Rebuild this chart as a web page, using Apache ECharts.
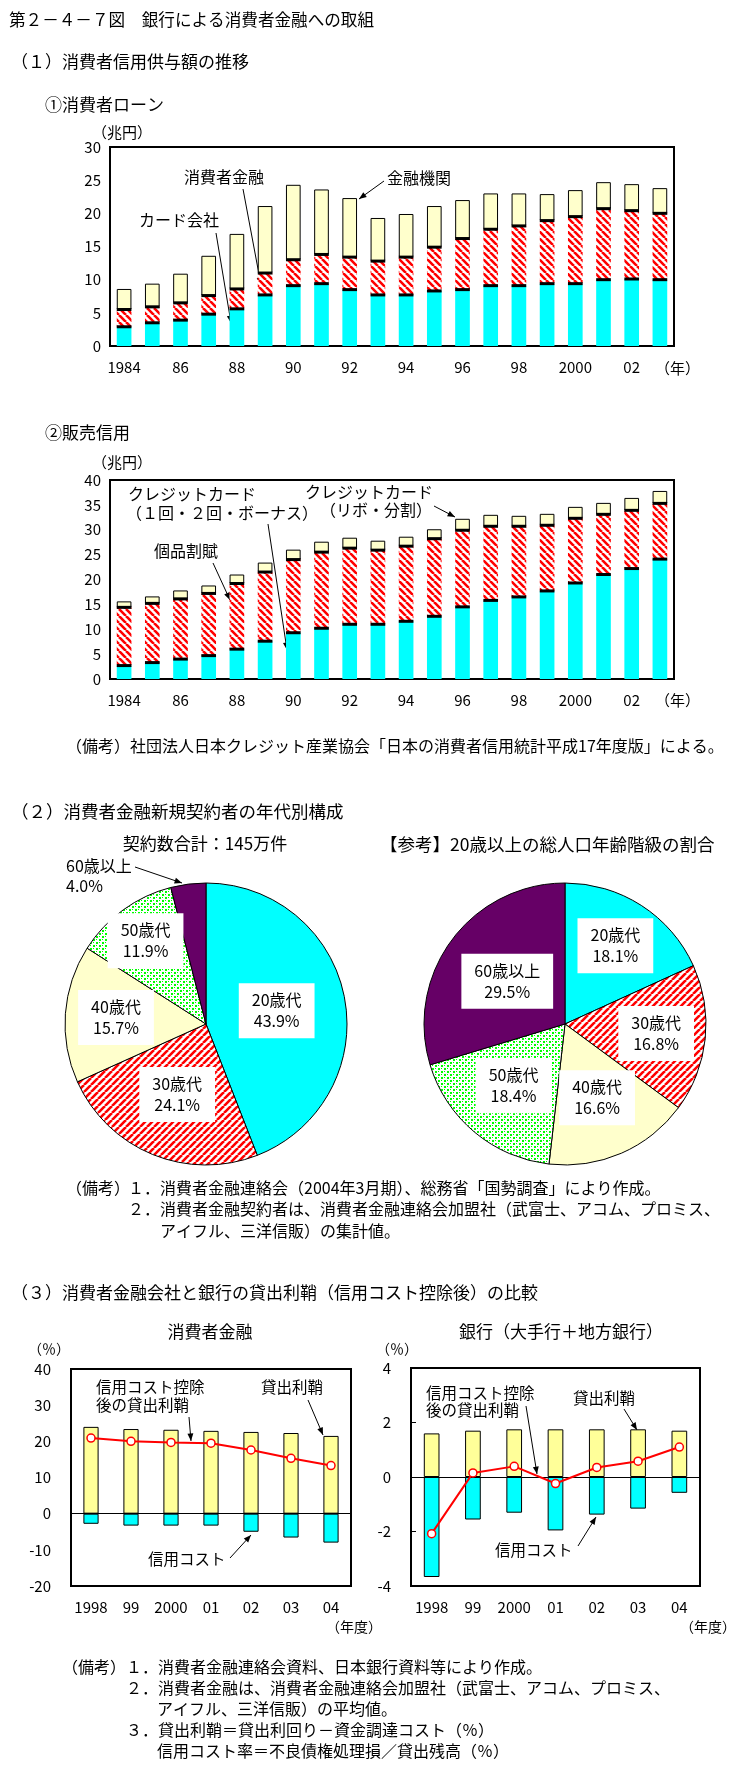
<!DOCTYPE html>
<html><head><meta charset="utf-8">
<script src="https://cdn.jsdelivr.net/npm/echarts@6/dist/echarts.min.js"></script>
<style>html,body{margin:0;padding:0;background:#fff}#c{width:734px;height:1774px}</style>
</head><body><div id="c"></div>
<script>
// ---------- DATA ----------
const years = ['1984','85','86','87','88','89','90','91','92','93','94','95','96','97','98','99','2000','01','02','03'];
// ① 消費者ローン (兆円)
const loanCard     = [2.9,3.5,3.9,4.8,5.6,7.7,9.1,9.4,8.5,7.7,7.7,8.3,8.5,9.1,9.1,9.4,9.4,10.0,10.1,10.0]; // カード会社
const loanConsumer = [2.6,2.4,2.6,2.8,3.0,3.3,3.9,4.4,4.9,5.1,5.7,6.6,7.7,8.5,9.0,9.5,10.1,10.7,10.3,10.0]; // 消費者金融
const loanBank     = [3.1,3.5,4.4,6.0,8.3,10.1,11.3,9.8,8.9,6.5,6.5,6.2,5.8,5.4,4.9,4.0,4.0,4.0,4.0,3.8]; // 金融機関
// ② 販売信用 (兆円)
const saleCard1    = [2.7,3.3,4.0,4.7,6.0,7.6,9.3,10.2,11.0,11.0,11.6,12.6,14.5,15.8,16.5,17.7,19.3,21.0,22.2,24.1]; // クレジットカード（１回・２回・ボーナス）
const saleInstall  = [11.7,11.9,12.1,12.5,13.2,13.9,14.7,15.3,15.3,14.9,15.1,15.6,15.4,14.9,14.2,13.2,13.0,12.1,11.7,11.2]; // 個品割賦
const saleRevo     = [1.2,1.4,1.7,1.6,1.8,1.9,2.0,2.1,2.1,1.9,1.9,1.9,2.3,2.3,2.1,2.3,2.3,2.3,2.5,2.5]; // クレジットカード（リボ・分割）
// (2) 年代別構成 (%)
const ageGroups     = ['20歳代','30歳代','40歳代','50歳代','60歳以上'];
const contractShare = [43.9,24.1,15.7,11.9,4.0];
const populationShare = [18.1,16.8,16.6,18.4,29.5];
// (3) 貸出利鞘 (%)
const fiscalYears = ['1998','99','2000','01','02','03','04'];
const cfMargin = [24.0,23.4,23.2,22.9,22.6,22.3,21.5];
const cfCost   = [-2.8,-3.3,-3.3,-3.3,-5.0,-6.6,-8.0];
const cfNet    = [20.9,20.0,19.7,19.5,17.6,15.3,13.3];
const bkMargin = [1.6,1.7,1.75,1.75,1.75,1.75,1.7];
const bkCost   = [-3.67,-1.56,-1.31,-1.96,-1.38,-1.16,-0.58];
const bkNet    = [-2.08,0.15,0.39,-0.24,0.35,0.58,1.10];

// ---------- STYLE ----------
const FONT = '"Noto Sans CJK JP", sans-serif';
const CYAN = '#00FFFF', PALE = '#FFFFCC', YEL = '#FFFF99', PURPLE = '#660066';
function hatch(dir, p, lw){
  const c = document.createElement('canvas'); c.width = c.height = p;
  const g = c.getContext('2d'); g.fillStyle = '#fff'; g.fillRect(0,0,p,p);
  g.strokeStyle = '#FF0000'; g.lineWidth = lw; g.beginPath();
  for (let k=-1;k<=1;k++){
    if (dir === 'back'){ g.moveTo(k*p,0); g.lineTo(k*p+p,p); }
    else { g.moveTo(k*p,p); g.lineTo(k*p+p,0); }
  }
  g.stroke(); return {image:c, repeat:'repeat'};
}
function dots(){
  const c = document.createElement('canvas'); c.width = c.height = 6;
  const g = c.getContext('2d'); g.fillStyle = '#fff'; g.fillRect(0,0,6,6);
  g.fillStyle = '#00FF00';
  g.fillRect(0,0,2,2); g.fillRect(3,3,2,2); g.fillRect(3,0,1,1); g.fillRect(0,3,1,1);
  return {image:c, repeat:'repeat'};
}
const barHatch = hatch('back', 7, 2.6);
const pieHatch = hatch('fwd', 7, 2.6);
const pieDots = dots();

function txt(x, y, text, size, align){
  return {type:'text', x:x, y:y, silent:true, style:{text:text, fill:'#000', fontSize:size||15, fontFamily:FONT, align:align||'left', verticalAlign:'middle'}};
}
function arrow(x1,y1,x2,y2){
  const a = Math.atan2(y2-y1, x2-x1), L = 8, w = 0.38;
  return [
    {type:'line', silent:true, shape:{x1:x1,y1:y1,x2:x2,y2:y2}, style:{stroke:'#000', lineWidth:1}},
    {type:'polygon', silent:true, shape:{points:[[x2-L*Math.cos(a-w), y2-L*Math.sin(a-w)],[x2,y2],[x2-L*Math.cos(a+w), y2-L*Math.sin(a+w)]]}, style:{fill:'#000'}}
  ];
}

const BARW = 0.52;
// black separator lines on stacked bars, positioned by the axis scales
function sepSeries(xi, yi, levels){
  const data = [];
  levels.forEach(arr => arr.forEach((v,i) => data.push([i, v])));
  return {
    type:'custom', xAxisIndex:xi, yAxisIndex:yi, z:5, silent:true, data:data,
    renderItem:function(params, api){
      const p = api.coord([api.value(0), api.value(1)]);
      const w = api.size([1,0])[0]*BARW;
      return {type:'rect', shape:{x:p[0]-w/2, y:p[1]-1.5, width:w, height:3}, style:{fill:'#000'}};
    }
  };
}
function cum(a,b){ return a.map((v,i)=>+(v+b[i]).toFixed(2)); }

function pieLayout(cx, cy, r, values, fracs){
  const total = values.reduce((s,v)=>s+v,0);
  return function(p){
    const i = p.dataIndex; let before = 0;
    for (let j=0;j<i;j++) before += values[j];
    const ang = (90 - (before + values[i]/2)/total*360)*Math.PI/180;
    return {x: cx + fracs[i]*r*Math.cos(ang), y: cy - fracs[i]*r*Math.sin(ang), align:'center', verticalAlign:'middle'};
  };
}
const pieColors = [CYAN, pieHatch, PALE, pieDots, PURPLE];
function pieData(values, hideLast){
  return values.map((v,i)=>({name:ageGroups[i], value:v, itemStyle:{color:pieColors[i]},
    label: (hideLast && i===values.length-1) ? {show:false} : undefined}));
}
const pieLabel = {show:true, position:'inside', formatter:p=>p.name+'\n'+p.value.toFixed(1)+'%',
  backgroundColor:'#fff', padding:[7,13,6,13], fontSize:16, lineHeight:21, color:'#000', fontFamily:FONT};

const axisTxt = {color:'#000', fontSize:15, fontFamily:FONT};

const grids = [
  {left:110, top:147, width:564, height:199},
  {left:110, top:480, width:564, height:199},
  {left:71, top:1369, width:280, height:217},
  {left:411, top:1368, width:289, height:218}
].map(g=>Object.assign({show:true, borderColor:'#000', borderWidth:2, backgroundColor:'rgba(0,0,0,0)'}, g));

function catAxis(gi, cats, interval){
  return {type:'category', gridIndex:gi, data:cats, axisLine:{show:true, onZero:false, lineStyle:{color:'#000', width:2}},
    axisTick:{show:false}, axisLabel:Object.assign({interval:interval, margin:14}, axisTxt)};
}
function valAxis(gi, min, max, step, margin, tick){
  return {type:'value', gridIndex:gi, min:min, max:max, interval:step, splitLine:{show:false},
    axisLine:{show:false}, axisTick:{show:!!tick, inside:true, length:5, lineStyle:{color:'#000'}},
    axisLabel:Object.assign({margin:margin}, axisTxt)};
}
function bar(xi, yi, data, color, stack, border){
  return {type:'bar', xAxisIndex:xi, yAxisIndex:yi, data:data, stack:stack, barWidth:(BARW*100)+'%',
    itemStyle:{color:color, borderColor:'#000', borderWidth:border?1:0}, silent:true};
}

const graphics = [
  txt(9, 20, '第２－４－７図　銀行による消費者金融への取組', 16.6),
  txt(11, 62, '（１）消費者信用供与額の推移', 17),
  txt(45, 105, '①消費者ローン', 17),
  txt(92, 132, '（兆円）', 15),
  txt(655, 368, '（年）', 15),
  txt(184, 177, '消費者金融', 16), ...arrow(243,189,261,285),
  txt(139, 220, 'カード会社', 16), ...arrow(216,233,231,323),
  txt(387, 178, '金融機関', 16), ...arrow(384,181,359,199),

  txt(45, 433, '②販売信用', 17),
  txt(92, 462, '（兆円）', 15),
  txt(655, 700, '（年）', 15),
  txt(128, 494, 'クレジットカード', 16),
  txt(126, 513, '（１回・２回・ボーナス）', 16), ...arrow(268,524,287,650),
  txt(305, 492, 'クレジットカード', 16),
  txt(320, 510, '（リボ・分割）', 16), ...arrow(434,506,455,517),
  txt(154, 551, '個品割賦', 16), ...arrow(213,563,230,600),
  txt(66, 746, '（備考）社団法人日本クレジット産業協会「日本の消費者信用統計平成17年度版」による。', 16),

  txt(11, 811, '（２）消費者金融新規契約者の年代別構成', 17.5),
  txt(205, 844, '契約数合計：145万件', 17, 'center'),
  txt(380, 844, '【参考】20歳以上の総人口年齢階級の割合', 17.5),
  txt(66, 866, ageGroups[4], 16),
  txt(66, 886, contractShare[4].toFixed(1)+'%', 16), ...arrow(135,867,182,883),
  txt(66, 1188, '（備考）', 16),
  txt(128, 1188, '１．消費者金融連絡会（2004年3月期）、総務省「国勢調査」により作成。', 16),
  txt(128, 1209, '２．消費者金融契約者は、消費者金融連絡会加盟社（武富士、アコム、プロミス、', 16),
  txt(160, 1231, 'アイフル、三洋信販）の集計値。', 16),

  txt(11, 1293, '（３）消費者金融会社と銀行の貸出利鞘（信用コスト控除後）の比較', 17),
  txt(210, 1332, '消費者金融', 17, 'center'),
  txt(561, 1332, '銀行（大手行＋地方銀行）', 17, 'center'),
  txt(28, 1349, '（％）', 14),
  txt(376, 1349, '（％）', 14),
  txt(326, 1627, '（年度）', 14),
  txt(680, 1627, '（年度）', 14),
  txt(96, 1387, '信用コスト控除', 15.5),
  txt(96, 1405, '後の貸出利鞘', 15.5), ...arrow(189,1417,191,1441),
  txt(261, 1387, '貸出利鞘', 15.5), ...arrow(308,1400,323,1435),
  txt(148, 1559, '信用コスト', 15.5), ...arrow(230,1558,251,1535),
  txt(426, 1393, '信用コスト控除', 15.5),
  txt(426, 1410, '後の貸出利鞘', 15.5), ...arrow(526,1406,537,1474),
  txt(573, 1398, '貸出利鞘', 15.5), ...arrow(624,1409,637,1430),
  txt(495, 1550, '信用コスト', 15.5), ...arrow(578,1546,596,1517),
  txt(62, 1667, '（備考）', 16),
  txt(126, 1667, '１．消費者金融連絡会資料、日本銀行資料等により作成。', 16),
  txt(126, 1688, '２．消費者金融は、消費者金融連絡会加盟社（武富士、アコム、プロミス、', 16),
  txt(157, 1709, 'アイフル、三洋信販）の平均値。', 16),
  txt(126, 1730, '３．貸出利鞘＝貸出利回り－資金調達コスト（％）', 16),
  txt(157, 1751, '信用コスト率＝不良債権処理損／貸出残高（％）', 16)
];

const lineStyle = {type:'line', symbol:'circle', symbolSize:8, z:6, silent:true,
  lineStyle:{color:'#FF0000', width:2}, itemStyle:{color:'#fff', borderColor:'#FF0000', borderWidth:1.5}};
const zeroLine = {silent:true, symbol:'none', label:{show:false}, lineStyle:{color:'#000', width:1, type:'solid'}, data:[{yAxis:0}]};

const LPIE = {cx:206, cy:1024, r:141}, RPIE = {cx:565, cy:1024, r:141};

const option = {
  animation:false,
  textStyle:{fontFamily:FONT},
  grid:grids,
  xAxis:[catAxis(0, years, 1), catAxis(1, years, 1), catAxis(2, fiscalYears, 0), catAxis(3, fiscalYears, 0)],
  yAxis:[valAxis(0,0,30,5,9), valAxis(1,0,40,5,9), valAxis(2,-20,40,10,20), valAxis(3,-4,4,2,20,true)],
  series:[
    bar(0,0,loanCard,CYAN,'a',false),
    bar(0,0,loanConsumer,barHatch,'a',false),
    bar(0,0,loanBank,PALE,'a',true),
    sepSeries(0,0,[loanCard, cum(loanCard,loanConsumer)]),
    bar(1,1,saleCard1,CYAN,'b',false),
    bar(1,1,saleInstall,barHatch,'b',false),
    bar(1,1,saleRevo,PALE,'b',true),
    sepSeries(1,1,[saleCard1, cum(saleCard1,saleInstall)]),
    Object.assign(bar(2,2,cfMargin,YEL,'c',true),{barWidth:'38%', markLine:zeroLine}),
    Object.assign(bar(2,2,cfCost,CYAN,'c',true),{barWidth:'38%'}),
    Object.assign({}, lineStyle, {xAxisIndex:2, yAxisIndex:2, data:cfNet}),
    Object.assign(bar(3,3,bkMargin,YEL,'d',true),{barWidth:'38%', markLine:zeroLine}),
    Object.assign(bar(3,3,bkCost,CYAN,'d',true),{barWidth:'38%'}),
    Object.assign({}, lineStyle, {xAxisIndex:3, yAxisIndex:3, data:bkNet}),
    {type:'pie', center:[LPIE.cx,LPIE.cy], radius:LPIE.r, startAngle:90, clockwise:true, silent:true, avoidLabelOverlap:false,
      itemStyle:{borderColor:'#000', borderWidth:1}, label:pieLabel, labelLine:{show:false},
      labelLayout:pieLayout(LPIE.cx,LPIE.cy,LPIE.r,contractShare,[0.51,0.54,0.64,0.73,0.5]),
      data:pieData(contractShare, true)},
    {type:'pie', center:[RPIE.cx,RPIE.cy], radius:RPIE.r, startAngle:90, clockwise:true, silent:true, avoidLabelOverlap:false,
      itemStyle:{borderColor:'#000', borderWidth:1}, label:pieLabel, labelLine:{show:false},
      labelLayout:pieLayout(RPIE.cx,RPIE.cy,RPIE.r,populationShare,[0.66,0.65,0.57,0.57,0.51]),
      data:pieData(populationShare, false)}
  ],
  graphic:graphics
};
const chart = echarts.init(document.getElementById('c'), null, {renderer:'canvas'});
chart.setOption(option);
</script></body></html>
